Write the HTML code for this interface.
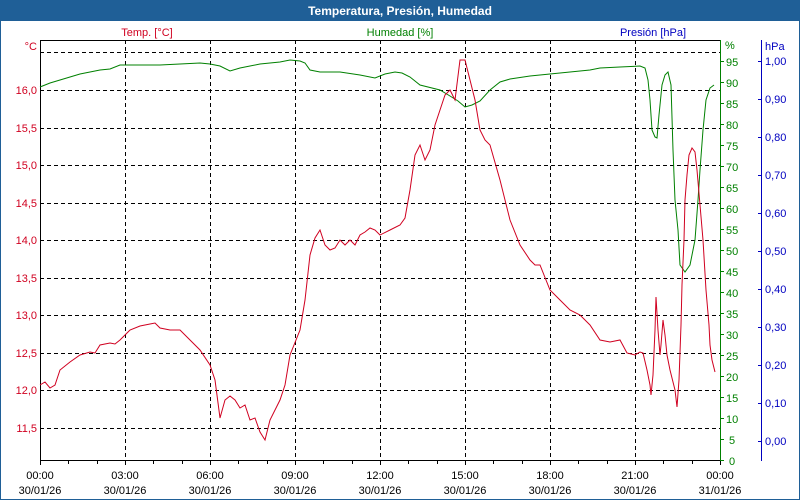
<!DOCTYPE html>
<html><head><meta charset="utf-8"><style>
html,body{margin:0;padding:0;background:#fff;}
svg{display:block;font-family:"Liberation Sans","DejaVu Sans",sans-serif;}
</style></head><body>
<svg width="800" height="500" viewBox="0 0 800 500" xmlns="http://www.w3.org/2000/svg">
<rect x="0" y="0" width="800" height="500" fill="#fff"/>
<rect x="0.5" y="0.5" width="799" height="499" fill="none" stroke="#1f5f97"/>
<rect x="0" y="0" width="800" height="21" fill="#1f5f97"/>
<text x="400" y="15" fill="#fff" font-size="12" font-weight="bold" text-anchor="middle">Temperatura, Presión, Humedad</text>
<g font-size="11">
<text x="147" y="36" fill="#d00020" text-anchor="middle">Temp. [°C]</text>
<text x="400" y="36" fill="#008000" text-anchor="middle">Humedad [%]</text>
<text x="653" y="36" fill="#0000c0" text-anchor="middle">Presión [hPa]</text>
</g>
<!-- grid -->
<g stroke="#000" stroke-dasharray="4,3" stroke-width="1">
<line x1="40" y1="52.5" x2="720" y2="52.5"/>
<line x1="40" y1="90.5" x2="720" y2="90.5"/>
<line x1="40" y1="128.5" x2="720" y2="128.5"/>
<line x1="40" y1="165.5" x2="720" y2="165.5"/>
<line x1="40" y1="203.5" x2="720" y2="203.5"/>
<line x1="40" y1="240.5" x2="720" y2="240.5"/>
<line x1="40" y1="278.5" x2="720" y2="278.5"/>
<line x1="40" y1="315.5" x2="720" y2="315.5"/>
<line x1="40" y1="353.5" x2="720" y2="353.5"/>
<line x1="40" y1="390.5" x2="720" y2="390.5"/>
<line x1="40" y1="428.5" x2="720" y2="428.5"/>
<line x1="125.5" y1="40" x2="125.5" y2="460"/>
<line x1="210.5" y1="40" x2="210.5" y2="460"/>
<line x1="295.5" y1="40" x2="295.5" y2="460"/>
<line x1="380.5" y1="40" x2="380.5" y2="460"/>
<line x1="465.5" y1="40" x2="465.5" y2="460"/>
<line x1="550.5" y1="40" x2="550.5" y2="460"/>
<line x1="635.5" y1="40" x2="635.5" y2="460"/>
</g>
<!-- axes frame -->
<line x1="40.5" y1="40" x2="40.5" y2="461" stroke="#000"/>
<line x1="40" y1="40.5" x2="720" y2="40.5" stroke="#000"/>
<line x1="40" y1="460.5" x2="720" y2="460.5" stroke="#000"/>
<line x1="720.5" y1="40" x2="720.5" y2="461" stroke="#008000"/>
<line x1="761.5" y1="40" x2="761.5" y2="461" stroke="#0000c0"/>
<!-- bottom ticks -->
<g stroke="#000">
<line x1="40.5" y1="460" x2="40.5" y2="465"/><line x1="68.5" y1="460" x2="68.5" y2="464"/><line x1="97.5" y1="460" x2="97.5" y2="464"/>
<line x1="125.5" y1="460" x2="125.5" y2="465"/><line x1="153.5" y1="460" x2="153.5" y2="464"/><line x1="182.5" y1="460" x2="182.5" y2="464"/>
<line x1="210.5" y1="460" x2="210.5" y2="465"/><line x1="238.5" y1="460" x2="238.5" y2="464"/><line x1="267.5" y1="460" x2="267.5" y2="464"/>
<line x1="295.5" y1="460" x2="295.5" y2="465"/><line x1="323.5" y1="460" x2="323.5" y2="464"/><line x1="352.5" y1="460" x2="352.5" y2="464"/>
<line x1="380.5" y1="460" x2="380.5" y2="465"/><line x1="408.5" y1="460" x2="408.5" y2="464"/><line x1="437.5" y1="460" x2="437.5" y2="464"/>
<line x1="465.5" y1="460" x2="465.5" y2="465"/><line x1="493.5" y1="460" x2="493.5" y2="464"/><line x1="522.5" y1="460" x2="522.5" y2="464"/>
<line x1="550.5" y1="460" x2="550.5" y2="465"/><line x1="578.5" y1="460" x2="578.5" y2="464"/><line x1="607.5" y1="460" x2="607.5" y2="464"/>
<line x1="635.5" y1="460" x2="635.5" y2="465"/><line x1="663.5" y1="460" x2="663.5" y2="464"/><line x1="692.5" y1="460" x2="692.5" y2="464"/>
<line x1="720.5" y1="460" x2="720.5" y2="465"/>
</g>
<g font-size="11" fill="#000" text-anchor="middle">
<text x="40" y="479">00:00</text><text x="40" y="494">30/01/26</text>
<text x="125" y="479">03:00</text><text x="125" y="494">30/01/26</text>
<text x="210" y="479">06:00</text><text x="210" y="494">30/01/26</text>
<text x="295" y="479">09:00</text><text x="295" y="494">30/01/26</text>
<text x="380" y="479">12:00</text><text x="380" y="494">30/01/26</text>
<text x="465" y="479">15:00</text><text x="465" y="494">30/01/26</text>
<text x="550" y="479">18:00</text><text x="550" y="494">30/01/26</text>
<text x="635" y="479">21:00</text><text x="635" y="494">30/01/26</text>
<text x="720" y="479">00:00</text><text x="720" y="494">31/01/26</text>
</g>
<!-- left axis labels -->
<g font-size="11" fill="#d00020" text-anchor="end">
<text x="37" y="50">°C</text>
<text x="37" y="94">16,0</text><text x="37" y="132">15,5</text><text x="37" y="169">15,0</text>
<text x="37" y="207">14,5</text><text x="37" y="244">14,0</text><text x="37" y="282">13,5</text>
<text x="37" y="319">13,0</text><text x="37" y="357">12,5</text><text x="37" y="394">12,0</text>
<text x="37" y="432">11,5</text>
</g>
<!-- humidity axis -->
<g stroke="#008000">
<line x1="720" y1="61.5" x2="724" y2="61.5"/><line x1="720" y1="82.5" x2="724" y2="82.5"/><line x1="720" y1="103.5" x2="724" y2="103.5"/>
<line x1="720" y1="124.5" x2="724" y2="124.5"/><line x1="720" y1="145.5" x2="724" y2="145.5"/><line x1="720" y1="166.5" x2="724" y2="166.5"/>
<line x1="720" y1="187.5" x2="724" y2="187.5"/><line x1="720" y1="208.5" x2="724" y2="208.5"/><line x1="720" y1="229.5" x2="724" y2="229.5"/>
<line x1="720" y1="250.5" x2="724" y2="250.5"/><line x1="720" y1="271.5" x2="724" y2="271.5"/><line x1="720" y1="292.5" x2="724" y2="292.5"/>
<line x1="720" y1="313.5" x2="724" y2="313.5"/><line x1="720" y1="334.5" x2="724" y2="334.5"/><line x1="720" y1="355.5" x2="724" y2="355.5"/>
<line x1="720" y1="376.5" x2="724" y2="376.5"/><line x1="720" y1="397.5" x2="724" y2="397.5"/><line x1="720" y1="418.5" x2="724" y2="418.5"/>
<line x1="720" y1="439.5" x2="724" y2="439.5"/><line x1="720" y1="460.5" x2="724" y2="460.5"/>
</g>
<g font-size="11" fill="#008000">
<text x="725" y="49">%</text>
<text x="726" y="66">95</text><text x="726" y="87">90</text><text x="726" y="108">85</text><text x="726" y="129">80</text>
<text x="726" y="150">75</text><text x="726" y="171">70</text><text x="726" y="192">65</text><text x="726" y="213">60</text>
<text x="726" y="234">55</text><text x="726" y="255">50</text><text x="726" y="276">45</text><text x="726" y="297">40</text>
<text x="726" y="318">35</text><text x="726" y="339">30</text><text x="726" y="360">25</text><text x="726" y="381">20</text>
<text x="726" y="402">15</text><text x="726" y="423">10</text><text x="729" y="444">5</text><text x="729" y="465">0</text>
</g>
<!-- pressure axis -->
<g stroke="#0000c0">
<line x1="758" y1="61.5" x2="762" y2="61.5"/><line x1="758" y1="99.5" x2="762" y2="99.5"/><line x1="758" y1="137.5" x2="762" y2="137.5"/>
<line x1="758" y1="175.5" x2="762" y2="175.5"/><line x1="758" y1="213.5" x2="762" y2="213.5"/><line x1="758" y1="251.5" x2="762" y2="251.5"/>
<line x1="758" y1="289.5" x2="762" y2="289.5"/><line x1="758" y1="327.5" x2="762" y2="327.5"/><line x1="758" y1="365.5" x2="762" y2="365.5"/>
<line x1="758" y1="403.5" x2="762" y2="403.5"/><line x1="758" y1="441.5" x2="762" y2="441.5"/>
</g>
<g font-size="11" fill="#0000c0">
<text x="765" y="50">hPa</text>
<text x="765" y="65">1,00</text><text x="765" y="103">0,90</text><text x="765" y="141">0,80</text>
<text x="765" y="179">0,70</text><text x="765" y="217">0,60</text><text x="765" y="255">0,50</text>
<text x="765" y="293">0,40</text><text x="765" y="331">0,30</text><text x="765" y="369">0,20</text>
<text x="765" y="407">0,10</text><text x="765" y="445">0,00</text>
</g>
<!-- humidity series -->
<polyline fill="none" stroke="#008000" stroke-width="1" points="40,87 50,83 60,80 70,77 80,74 90,72 100,70 110,69 120,65 160,65 200,63 210,64 220,66 230,71 240,68 250,66 260,64 270,63 280,62 290,60 300,61 305,63 310,70 320,72 340,72 360,75 375,78 385,74 395,72 402,73 410,77 420,85 440,90 450,96 458,101 465,107 472,105 480,101 490,90 500,82 510,79 530,76 560,73 590,70 600,68 620,67 640,66 645,68 648,80 650,100 652,130 655,137 657,138 659,115 662,85 665,75 668,72 671,85 673,150 675,200 678,230 680,265 685,272 690,265 695,240 698,200 700,170 703,130 706,100 710,88 714,85"/>
<!-- temperature series -->
<polyline fill="none" stroke="#d00020" stroke-width="1" points="40,385 45,382 50,388 55,385 60,370 70,362 80,355 90,352 95,353 100,345 110,343 115,344 120,340 130,330 140,326 150,324 155,323 160,328 170,330 180,330 190,340 200,350 210,365 215,380 220,418 225,400 230,396 235,400 240,408 245,405 250,420 255,418 260,432 265,440 270,420 280,400 285,385 290,355 300,330 305,300 310,255 315,238 320,230 325,245 330,250 335,248 340,240 345,245 350,240 355,245 360,235 365,232 370,228 375,230 380,235 390,230 400,225 405,218 410,190 415,155 420,145 425,160 430,150 435,125 440,110 445,95 450,90 455,100 460,60 465,60 470,80 475,100 480,130 485,140 490,145 500,180 510,220 520,245 530,260 535,265 540,265 550,290 560,300 570,310 580,315 590,325 600,340 610,342 620,340 627,353 635,355 640,352 643,353 647,370 650,385 651,395 653,375 655,330 656,297 658,330 660,355 661,345 663,320 665,335 667,355 670,370 675,390 677,407 679,380 681,325 682,285 684,240 685,200 687,175 689,155 692,148 695,152 697,170 700,205 703,240 706,290 709,325 710,345 712,360 715,372"/>
</svg>
</body></html>
